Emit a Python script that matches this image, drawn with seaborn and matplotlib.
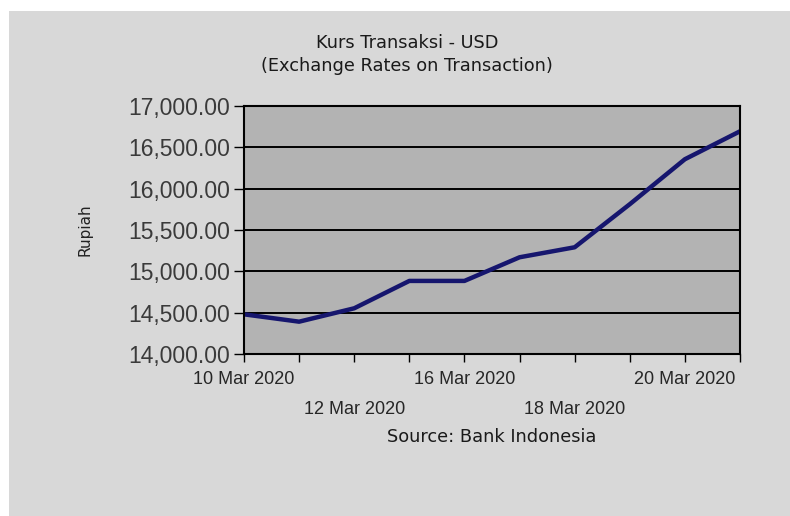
import matplotlib
matplotlib.use("Agg")
import matplotlib.pyplot as plt
from matplotlib.patches import Rectangle
from matplotlib.ticker import FuncFormatter, FixedLocator, FixedFormatter
import seaborn as sns
import pandas as pd

# ---- data ----
dates = ["10 Mar 2020", "11 Mar 2020", "12 Mar 2020", "13 Mar 2020", "16 Mar 2020",
         "17 Mar 2020", "18 Mar 2020", "19 Mar 2020", "20 Mar 2020", "23 Mar 2020"]
rates = [14480, 14391, 14553, 14884, 14884, 15170, 15291, 15812, 16356, 16694]
row1_labels = ["10 Mar 2020", "16 Mar 2020", "20 Mar 2020"]
row2_labels = ["12 Mar 2020", "18 Mar 2020"]
y_ticks = [14000, 14500, 15000, 15500, 16000, 16500, 17000]

title_line1 = "Kurs Transaksi - USD"
title_line2 = "(Exchange Rates on Transaction)"
source_text = "Source: Bank Indonesia"
y_label = "Rupiah"

df = pd.DataFrame({"date": dates, "rate": rates, "pos": list(range(len(dates)))})

W, H = 790, 516
fig = plt.figure(figsize=(W / 100, H / 100), dpi=100, facecolor="white")
fig.patches.append(Rectangle((9 / W, 0), 1 - 9 / W, 1 - 11 / H, transform=fig.transFigure,
                             facecolor="#d8d8d8", edgecolor="none", zorder=-10))

ax = fig.add_axes([244 / W, 1 - 354 / H, 496 / W, 248 / H])
ax.set_facecolor("#b3b3b3")
ax.set_axisbelow(True)

sns.lineplot(data=df, x="pos", y="rate", ax=ax, color="#16166e", linewidth=3.2)

ax.set_xlim(0, len(dates) - 1)
ax.set_ylim(y_ticks[0], y_ticks[-1])
ax.set_yticks(y_ticks)
ax.yaxis.set_major_formatter(FuncFormatter(lambda v, p: f"{v:,.2f}"))
ax.grid(axis="y", color="black", linewidth=1.4)
ax.grid(axis="x", visible=False)

# major ticks: every trading day, labels on first row
pos = list(df["pos"])
major_lbls = [d if d in row1_labels else "" for d in dates]
ax.xaxis.set_major_locator(FixedLocator(pos))
ax.xaxis.set_major_formatter(FixedFormatter(major_lbls))
# minor ticks: second row of labels
pos2 = [p for p, d in zip(pos, dates) if d in row2_labels]
ax.xaxis.remove_overlapping_locs = False
ax.xaxis.set_minor_locator(FixedLocator(pos2))
ax.xaxis.set_minor_formatter(FixedFormatter(row2_labels))

tick_font = "Liberation Sans"
ax.tick_params(axis="y", length=7, width=1, color="black", pad=3,
               labelsize=16.5, labelcolor="#3a3a3a", labelfontfamily=tick_font)
ax.tick_params(axis="x", which="major", length=6, width=1, color="black", pad=6.5,
               labelsize=13, labelcolor="#262626", labelfontfamily=tick_font)
ax.tick_params(axis="x", which="minor", length=0, pad=33.5,
               labelsize=13, labelcolor="#262626", labelfontfamily=tick_font)

for s in ax.spines.values():
    s.set_color("black")
    s.set_linewidth(1.5)

ax.set_xlabel("")
ax.set_ylabel(y_label, fontsize=11, family="DejaVu Sans", color="#222222")
ax.yaxis.set_label_coords((93 - 244) / 496, 0.5)

fig.text(407 / W, 1 - 43 / H, title_line1, ha="center", va="center",
         fontsize=12.8, family="DejaVu Sans", color="#1a1a1a")
fig.text(407 / W, 1 - 66 / H, title_line2, ha="center", va="center",
         fontsize=12.8, family="DejaVu Sans", color="#1a1a1a")
fig.text(492 / W, 1 - 437 / H, source_text, ha="center", va="center",
         fontsize=12.8, family="DejaVu Sans", color="#1a1a1a")

fig.savefig("out.png", dpi=100, facecolor=fig.get_facecolor())
